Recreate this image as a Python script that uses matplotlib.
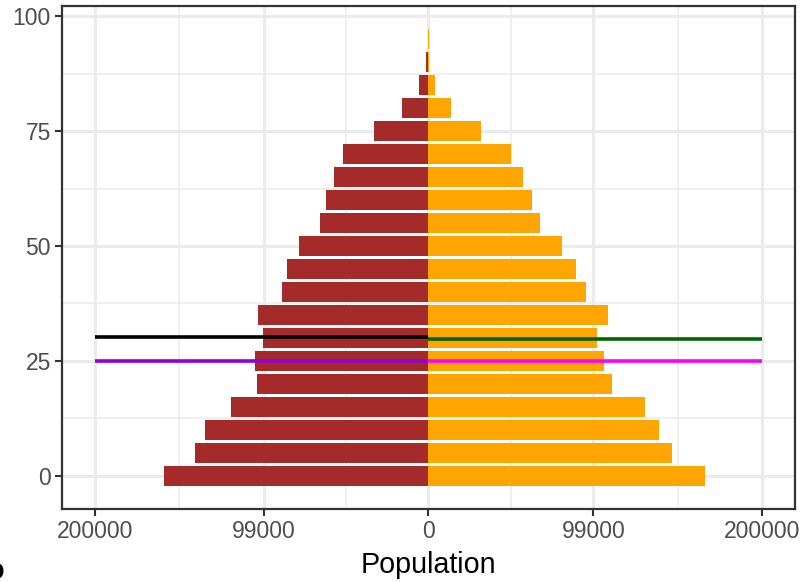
import numpy as np
import matplotlib.pyplot as plt

plt.rcParams['font.family'] = ['Liberation Sans', 'DejaVu Sans']

ages = [0, 5, 10, 15, 20, 25, 30, 35, 40, 45, 50, 55, 60, 65, 70, 75, 80, 85, 90, 95]
male = [158700, 140100, 134100, 118600, 103000, 104200, 99400, 102400, 88000, 85000,
        77800, 65300, 61700, 56900, 51500, 32900, 16200, 6000, 1800, 600]
female = [165900, 146100, 138300, 129900, 110200, 105400, 101200, 107800, 94600, 88600,
          80200, 67100, 62300, 56900, 49700, 31700, 13800, 4200, 600, 200]

# reference lines (y level, x from, x to, colour)
ref_lines = [
    (30.2, -200000, 0, 'black'),
    (29.8, 0, 200000, '#006400'),
    (25.0, -200000, 0, '#9400D3'),
    (25.0, 0, 200000, '#FF00FF'),
]

x_ticks = [-200000, -99000, 0, 99000, 200000]
x_labels = ['200000', '99000', '0', '99000', '200000']
y_ticks = [0, 25, 50, 75, 100]

fig = plt.figure(figsize=(8.03, 5.82), dpi=100)
ax = fig.add_axes([62 / 803, 73 / 582, 733 / 803, 503 / 582])

ax.barh(ages, [-m for m in male], height=4.5, color='#A52A2A', zorder=2)
ax.barh(ages, female, height=4.5, color='#FFA500', zorder=2)

for y, x0, x1, c in ref_lines:
    ax.plot([x0, x1], [y, y], color=c, lw=2.6, solid_capstyle='butt', zorder=3)

ax.set_xlim(-220000, 220000)
ax.set_ylim(-7.2, 102.2)
ax.set_xticks(x_ticks)
ax.set_xticklabels(x_labels)
ax.set_yticks(y_ticks)
ax.set_xticks([-149500, -49500, 49500, 149500], minor=True)
ax.set_yticks([12.5, 37.5, 62.5, 87.5], minor=True)

ax.grid(which='major', color='#EBEBEB', lw=2.2, zorder=0)
ax.grid(which='minor', color='#EBEBEB', lw=1.1, zorder=0)
ax.set_axisbelow(True)

for s in ax.spines.values():
    s.set_color('#333333')
    s.set_linewidth(1.6)

ax.tick_params(which='major', length=5, width=1.5, color='#333333',
               labelsize=16.5, labelcolor='#4D4D4D', pad=3)
ax.tick_params(which='minor', length=0)

ax.set_xlabel('Population', fontsize=20.7, color='black', labelpad=6)

fig.text(4 / 803, 11 / 582, 'o', ha='right', va='center', fontsize=20.7,
         fontweight='bold', color='black')

fig.savefig('out.png', dpi=100)
